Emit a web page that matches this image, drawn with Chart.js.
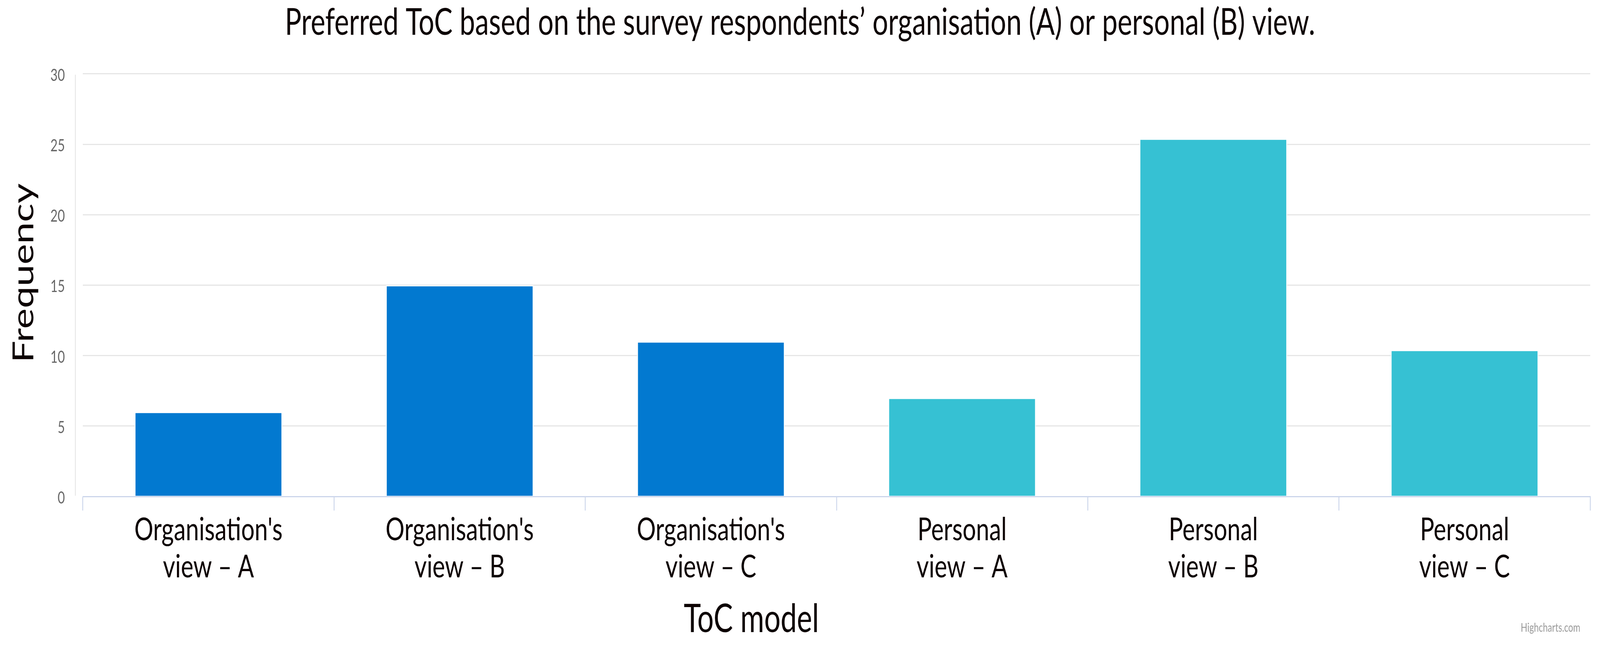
<!DOCTYPE html>
<html><head><meta charset="utf-8">
<script src="https://cdn.jsdelivr.net/npm/chart.js@4"></script>
<style>html,body{margin:0;padding:0;background:#fff;overflow:hidden;width:100vw;height:100vh}#c{display:block;width:100vw;height:100vh}</style>
</head><body><canvas id="c" width="5524" height="1673" style="width:100vw;height:100vh"></canvas>
<script>
const chartTitle = "Preferred ToC based on the survey respondents’ organisation (A) or personal (B) view.";
const categories = [
  ["Organisation's", "view – A"],
  ["Organisation's", "view – B"],
  ["Organisation's", "view – C"],
  ["Personal", "view – A"],
  ["Personal", "view – B"],
  ["Personal", "view – C"]
];
const frequencies = [6, 15, 11, 7, 25.4, 10.4];
const barColors = ["#0279d0", "#0279d0", "#0279d0", "#36c1d3", "#36c1d3", "#36c1d3"];
const yMin = 0, yMax = 30, yStep = 5;
const yTitle = "Frequency";
const xTitle = "ToC model";
const creditText = "Highcharts.com";

const textColor = "#0c0202";

const decor = {
  id: "decor",
  afterDraw(chart) {
    const ctx = chart.ctx, a = chart.chartArea;
    ctx.save();
    // thin y-axis line left of the plot
    ctx.strokeStyle = "#c4c4c4";
    ctx.lineWidth = 1.2;
    ctx.beginPath();
    ctx.moveTo(a.left - 26, a.top + 2);
    ctx.lineTo(a.left - 26, a.bottom - 2);
    ctx.stroke();
    // axis titles
    ctx.fillStyle = textColor;
    ctx.font = "100px Lato";
    ctx.textAlign = "center";
    ctx.textBaseline = "alphabetic";
    ctx.save();
    ctx.translate(115, a.top + (a.bottom - a.top) / 2 - 31);
    ctx.rotate(-Math.PI / 2);
    ctx.fillText(yTitle, 0, 0);
    ctx.restore();
    ctx.fillText(xTitle, a.left + (a.right - a.left) / 2 - 294, 1617);
    // credit
    ctx.fillStyle = "#999999";
    ctx.font = "30px Lato";
    ctx.textAlign = "right";
    ctx.fillText(creditText, chart.width - 68, chart.height - 57);
    ctx.restore();
  }
};

function build() {
  new Chart(document.getElementById("c"), {
    type: "bar",
    data: {
      labels: categories,
      datasets: [{
        data: frequencies,
        backgroundColor: barColors,
        borderColor: "#ffffff",
        borderWidth: 3,
        borderSkipped: "bottom",
        barPercentage: 0.5876,
        categoryPercentage: 1
      }]
    },
    options: {
      responsive: false,
      devicePixelRatio: 1,
      animation: false,
      layout: { padding: { left: 0, right: 0, top: 0, bottom: 0 } },
      plugins: {
        legend: { display: false },
        tooltip: { enabled: false },
        title: {
          display: true,
          text: chartTitle,
          color: textColor,
          font: { family: "Lato", size: 95.4, weight: "normal", lineHeight: 1.1 },
          padding: { top: 6, bottom: 78 }
        }
      },
      scales: {
        y: {
          min: yMin, max: yMax,
          ticks: {
            stepSize: yStep,
            color: "#666666",
            font: { family: "Lato", size: 43 },
            padding: 62,
            labelOffset: 4
          },
          grid: {
            color: (c) => (c.tick && c.tick.value === 0) ? "rgba(0,0,0,0)" : "#e6e6e6",
            lineWidth: 3,
            drawTicks: false
          },
          border: { display: false },
          title: { display: false },
          afterFit: (s) => { s.width = 286; }
        },
        yRight: {
          position: "right",
          display: true,
          min: yMin, max: yMax,
          ticks: { display: false },
          grid: { display: false, drawTicks: false },
          border: { display: false },
          afterFit: (s) => { s.width = 34; }
        },
        x: {
          grid: {
            display: true,
            drawOnChartArea: false,
            drawTicks: true,
            tickLength: 36,
            color: "#ccd6eb",
            lineWidth: 3,
            offset: true
          },
          border: { display: true, color: "#ccd6eb", width: 3 },
          ticks: {
            color: textColor,
            font: { family: "Lato", size: 82, lineHeight: 1.159 },
            padding: 2,
            maxRotation: 0,
            autoSkip: false
          },
          title: { display: false },
          afterFit: (s) => { s.height = 403; }
        }
      }
    },
    plugins: [decor]
  });
}
Promise.all([
  document.fonts.load("100px Lato"),
  document.fonts.load("43px Lato")
]).then(build, build);
</script>
</body></html>
